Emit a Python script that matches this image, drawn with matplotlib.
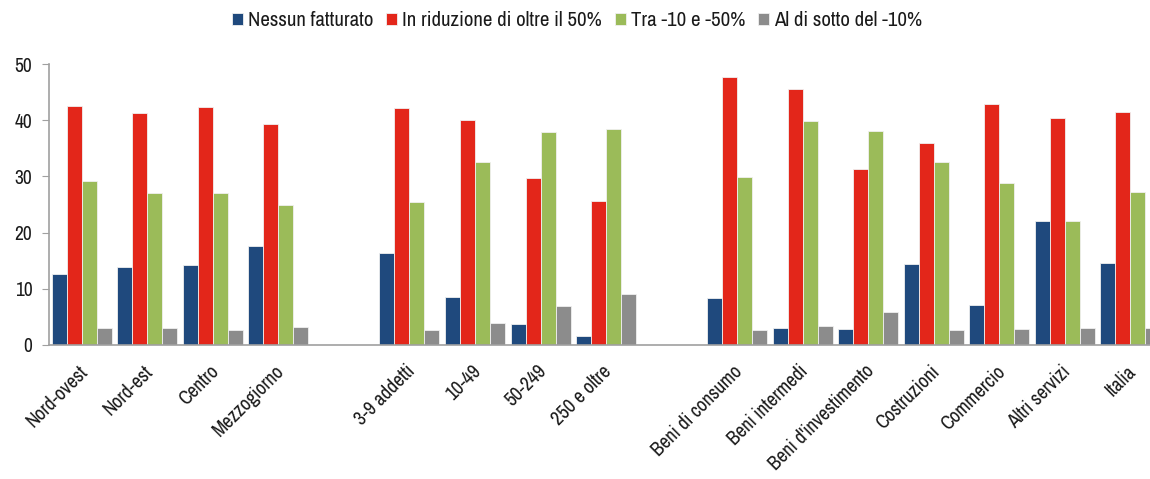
import matplotlib
matplotlib.use("Agg")
import matplotlib.pyplot as plt
import numpy as np
import matplotlib.transforms as mtransforms

categories = ["Nord-ovest", "Nord-est", "Centro", "Mezzogiorno", "",
              "3-9 addetti", "10-49", "50-249", "250 e oltre", "",
              "Beni di consumo", "Beni intermedi", "Beni d'investimento",
              "Costruzioni", "Commercio", "Altri servizi", "Italia"]

series_names = ["Nessun fatturato", "In riduzione di oltre il 50%",
                "Tra -10 e -50%", "Al di sotto del -10%"]

nessun = [12.6, 13.8, 14.2, 17.7, None, 16.4, 8.5, 3.7, 1.6, None,
          8.4, 3.1, 2.9, 14.5, 7.1, 22.0, 14.6]
oltre50 = [42.5, 41.3, 42.4, 39.4, None, 42.1, 40.0, 29.7, 25.7, None,
           47.6, 45.5, 31.4, 35.9, 42.9, 40.4, 41.4]
tra10_50 = [29.2, 27.0, 27.0, 25.0, None, 25.4, 32.5, 37.9, 38.4, None,
            29.9, 39.9, 38.1, 32.5, 28.8, 22.1, 27.2]
sotto10 = [3.0, 3.0, 2.7, 3.2, None, 2.6, 4.0, 6.9, 9.0, None,
           2.6, 3.4, 5.9, 2.6, 2.8, 3.0, 3.0]

yticks = [0, 10, 20, 30, 40, 50]

colors = ["#1F497D", "#E3261A", "#9BBB59", "#8C8C8C"]

plt.rcParams["font.family"] = ["Archivo Narrow", "PT Sans Narrow", "DejaVu Sans"]
text_color = "#1a1a1a"

fig = plt.figure(figsize=(11.5, 4.79), dpi=100)
ax = fig.add_axes([49 / 1150, (479 - 345) / 479, 1 - 49 / 1150, (345 - 64) / 479])

x = np.arange(len(categories))
w = 0.229
all_series = [nessun, oltre50, tra10_50, sotto10]
for i, (vals, name, c) in enumerate(zip(all_series, series_names, colors)):
    xs = [xi + (i - 1.5) * w for xi, v in zip(x, vals) if v is not None]
    vs = [v for v in vals if v is not None]
    ax.bar(xs, vs, width=w, color=c, edgecolor="#f0f0f0", linewidth=0.6, label=name)

ax.set_xlim(-0.5, 16.3)
ax.set_ylim(0, 50)
ax.set_yticks(yticks)
ax.tick_params(axis="y", direction="out", length=5, color="#a0a0a0",
               labelsize=14, pad=7, labelcolor=text_color)
ax.set_xticks([xi for xi, c in zip(x, categories) if c])
ax.set_xticklabels([c for c in categories if c], rotation=45, ha="right",
                   rotation_mode="anchor", fontsize=14, color=text_color)
ax.tick_params(axis="x", length=0, pad=12)
offset = mtransforms.ScaledTranslation(-4 / 100, 0, fig.dpi_scale_trans)
for lbl in ax.get_xticklabels():
    lbl.set_transform(lbl.get_transform() + offset)

for s in ["top", "right"]:
    ax.spines[s].set_visible(False)
ax.spines["left"].set_color("#a0a0a0")
ax.spines["bottom"].set_color("#a0a0a0")
ax.spines["left"].set_linewidth(1.2)
ax.spines["bottom"].set_linewidth(1.2)

leg = fig.legend(loc="center", bbox_to_anchor=(577 / 1150, 1 - 21 / 479), ncol=4,
                 frameon=False, fontsize=15, handlelength=0.53, handleheight=0.53,
                 handletextpad=0.25, columnspacing=0.6, borderaxespad=0,
                 labelcolor=text_color)

fig.savefig("out.png", dpi=100)
